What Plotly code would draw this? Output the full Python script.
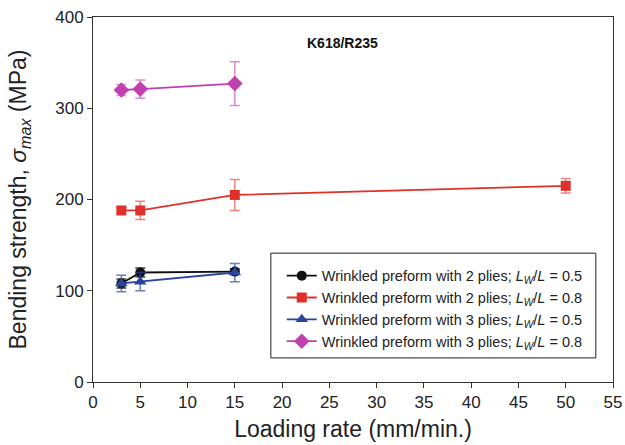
import plotly.graph_objects as go

# Loading rate (mm/min.)
rate_short = [3, 5, 15]
rate_long = [3, 5, 15, 50]

# Bending strength (MPa) and scatter (+/- MPa) for each preform configuration
s2_lw05 = [108, 120, 121]
e2_lw05 = [5, 5, 3]
s2_lw08 = [188, 188, 205, 215]
e2_lw08 = [3, 10, 17, 8]
s3_lw05 = [108, 110, 120]
e3_lw05 = [9, 10, 10]
s3_lw08 = [320, 321, 327]
e3_lw08 = [6, 10, 24]

names = [
    "Wrinkled preform with 2 plies; <i>L</i><sub><i>W</i></sub>/<i>L</i> = 0.5",
    "Wrinkled preform with 2 plies; <i>L</i><sub><i>W</i></sub>/<i>L</i> = 0.8",
    "Wrinkled preform with 3 plies; <i>L</i><sub><i>W</i></sub>/<i>L</i> = 0.5",
    "Wrinkled preform with 3 plies; <i>L</i><sub><i>W</i></sub>/<i>L</i> = 0.8",
]

series = [
    (rate_short, s2_lw05, e2_lw05, "#111111", "rgba(17,17,17,0.8)", "circle", 10),
    (rate_long, s2_lw08, e2_lw08, "#e0302a", "rgba(224,48,42,0.6)", "square", 10),
    (rate_short, s3_lw05, e3_lw05, "#2a44a0", "rgba(42,68,160,0.7)", "triangle-up", 11),
    (rate_short, s3_lw08, e3_lw08, "#c040b0", "rgba(192,64,176,0.6)", "diamond", 12),
]

fig = go.Figure()
for name, (x, y, e, col, ecol, sym, size) in zip(names, series):
    fig.add_trace(go.Scatter(
        x=x, y=y, name=name, mode="lines+markers",
        line=dict(color=col, width=1.8),
        marker=dict(color=col, symbol=sym, size=size),
        error_y=dict(type="data", array=e, visible=True,
                     color=ecol, thickness=1.5, width=5),
    ))

fig.add_annotation(
    x=26.4, y=371, text="<b>K618/R235</b>", showarrow=False,
    font=dict(size=14, color="#111111"),
)

# Framed box behind the legend entries
fig.add_shape(
    type="rect", xref="paper", yref="paper",
    x0=0.342, x1=0.967, y0=0.066, y1=0.353,
    line=dict(color="#222222", width=1), fillcolor="white", layer="above",
)

fig.update_layout(
    width=625, height=445,
    margin=dict(l=93, r=12, t=17, b=63),
    paper_bgcolor="white", plot_bgcolor="white",
    font=dict(family="Liberation Sans, Arial, sans-serif", color="#222222"),
    legend=dict(
        x=0.363, y=0.335, xanchor="left", yanchor="top",
        bgcolor="rgba(0,0,0,0)", borderwidth=0,
        font=dict(size=14.5, color="#222222"),
    ),
    xaxis=dict(
        range=[0, 55], tickvals=list(range(0, 56, 5)),
        ticks="outside", ticklen=5, tickwidth=1, tickcolor="#333333",
        showline=True, linecolor="#333333", linewidth=1, mirror=True,
        showgrid=False, zeroline=False, automargin=False,
        tickfont=dict(size=17),
        title=dict(text="Loading rate (mm/min.)", font=dict(size=23), standoff=9),
    ),
    yaxis=dict(
        range=[0, 400], tickvals=[0, 100, 200, 300, 400],
        ticks="outside", ticklen=5, tickwidth=1, tickcolor="#333333",
        showline=True, linecolor="#333333", linewidth=1, mirror=True,
        showgrid=False, zeroline=False, automargin=False,
        tickfont=dict(size=17),
        title=dict(text="Bending strength, <i>σ</i><sub><i>max</i></sub> (MPa)",
                   font=dict(size=23), standoff=22),
    ),
)

fig.write_html("out.html")
